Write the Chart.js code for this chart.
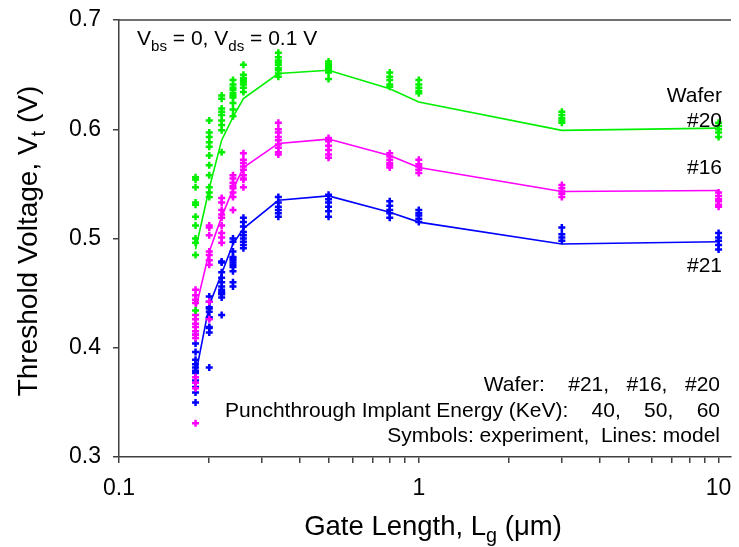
<!DOCTYPE html>
<html>
<head>
<meta charset="utf-8">
<title>Threshold voltage vs gate length</title>
<script src="https://cdn.jsdelivr.net/npm/chart.js@4/dist/chart.umd.min.js"></script>
<style>
  body { margin: 0; background: #fff; }
  #vtChart { display: block; }
</style>
</head>
<body>
<canvas id="vtChart" width="739" height="547"></canvas>
<script>
const FONT = '"Liberation Sans", Arial, Helvetica, sans-serif';

// gate lengths (um) where devices were measured and the model was evaluated
const gateLengths = [0.18, 0.2, 0.22, 0.24, 0.26, 0.34, 0.5, 0.8, 1, 3, 10];
const xTickValues = [0.1, 0.2, 0.3, 0.4, 0.5, 0.6, 0.7, 0.8, 0.9, 1, 2, 3, 4, 5, 6, 7, 8, 9, 10];
const xTickLabels = { 0.1: '0.1', 1: '1', 10: '10' };

// model curves, Vt (V)
const model20 = [0.490, 0.546, 0.590, 0.611, 0.628, 0.651, 0.654, 0.637, 0.625, 0.599, 0.601];
const model16 = [0.435, 0.488, 0.520, 0.545, 0.565, 0.587, 0.591, 0.576, 0.565, 0.543, 0.544];
const model21 = [0.375, 0.439, 0.468, 0.495, 0.509, 0.535, 0.539, 0.524, 0.515, 0.495, 0.497];

// measured Vt (V), one list per gate length
const exp20 = [
  [0.556, 0.554, 0.547, 0.533, 0.531, 0.520, 0.512, 0.500, 0.496, 0.485, 0.434],
  [0.608, 0.597, 0.593, 0.588, 0.584, 0.576, 0.567, 0.558, 0.547, 0.542, 0.538],
  [0.631, 0.628, 0.619, 0.616, 0.613, 0.608, 0.604, 0.599, 0.579],
  [0.645, 0.641, 0.638, 0.636, 0.633, 0.631, 0.629, 0.624, 0.618, 0.612],
  [0.659, 0.650, 0.647, 0.645, 0.643, 0.641, 0.638, 0.634],
  [0.670, 0.666, 0.663, 0.661, 0.659, 0.656, 0.654, 0.651, 0.648],
  [0.662, 0.660, 0.658, 0.656, 0.654, 0.652, 0.646],
  [0.652, 0.648, 0.645, 0.641, 0.639],
  [0.645, 0.641, 0.638, 0.635, 0.633],
  [0.616, 0.613, 0.610, 0.608, 0.606],
  [0.606, 0.603, 0.600, 0.597, 0.593]
];
const exp16 = [
  [0.453, 0.448, 0.444, 0.441, 0.430, 0.426, 0.422, 0.419, 0.415, 0.412, 0.409, 0.373, 0.368, 0.363, 0.331],
  [0.512, 0.510, 0.503, 0.488, 0.485, 0.480, 0.476, 0.442, 0.426],
  [0.537, 0.533, 0.526, 0.522, 0.519, 0.512, 0.505, 0.501, 0.496],
  [0.558, 0.555, 0.551, 0.548, 0.546, 0.542, 0.538, 0.526],
  [0.578, 0.572, 0.569, 0.566, 0.563, 0.558, 0.555, 0.554, 0.547],
  [0.606, 0.600, 0.597, 0.593, 0.590, 0.586, 0.583, 0.579, 0.577],
  [0.592, 0.589, 0.585, 0.581, 0.577, 0.574],
  [0.578, 0.575, 0.572, 0.569, 0.567, 0.565],
  [0.572, 0.568, 0.566, 0.563, 0.560],
  [0.549, 0.546, 0.543, 0.541, 0.538],
  [0.542, 0.539, 0.536, 0.534, 0.531, 0.529]
];
const exp21 = [
  [0.412, 0.404, 0.396, 0.389, 0.385, 0.382, 0.379, 0.377, 0.370, 0.364, 0.359, 0.350],
  [0.447, 0.442, 0.437, 0.436, 0.433, 0.428, 0.427, 0.419, 0.418, 0.414, 0.382],
  [0.479, 0.478, 0.469, 0.464, 0.460, 0.456, 0.453, 0.451, 0.450, 0.449, 0.446, 0.430],
  [0.500, 0.497, 0.488, 0.483, 0.482, 0.480, 0.478, 0.476, 0.474, 0.470, 0.460, 0.456],
  [0.519, 0.515, 0.511, 0.506, 0.503, 0.500, 0.497, 0.494, 0.491],
  [0.538, 0.533, 0.529, 0.526, 0.523, 0.520],
  [0.540, 0.536, 0.533, 0.529, 0.525, 0.520],
  [0.534, 0.530, 0.526, 0.523, 0.519],
  [0.526, 0.523, 0.521, 0.518, 0.515],
  [0.510, 0.504, 0.501, 0.498],
  [0.505, 0.501, 0.498, 0.494, 0.490]
];

const GREEN = '#00f000';
const MAGENTA = '#ff00ff';
const BLUE = '#0000ff';
const AXIS = '#404040';

function points(cols) {
  return cols.flatMap((col, i) => col.map(v => ({ x: gateLengths[i], y: v })));
}
function curve(vals) {
  return vals.map((v, i) => ({ x: gateLengths[i], y: v }));
}
function expSet(label, cols, color) {
  return {
    label, data: points(cols), showLine: false,
    pointStyle: 'cross', pointRadius: 3.5, borderWidth: 2.5,
    borderColor: color, backgroundColor: color
  };
}
function modelSet(label, vals, color) {
  return {
    label, data: curve(vals), showLine: true, pointRadius: 0,
    borderColor: color, borderWidth: 1.6, tension: 0
  };
}

// text with subscripts: parts = [[text, isSub], ...]
function drawRich(ctx, parts, x, y, size, align) {
  const subSize = size * 0.72;
  let w = 0;
  parts.forEach(([t, sub]) => {
    ctx.font = `${sub ? subSize : size}px ${FONT}`;
    w += ctx.measureText(t).width;
  });
  let cx = align === 'right' ? x - w : align === 'center' ? x - w / 2 : x;
  parts.forEach(([t, sub]) => {
    ctx.font = `${sub ? subSize : size}px ${FONT}`;
    ctx.fillText(t, cx, sub ? y + size * 0.27 : y);
    cx += ctx.measureText(t).width;
  });
}

const annotations = {
  id: 'annotations',
  afterDraw(chart) {
    const { ctx, chartArea } = chart;
    ctx.save();
    // top frame line
    ctx.strokeStyle = AXIS;
    ctx.lineWidth = 1.5;
    ctx.beginPath();
    ctx.moveTo(chartArea.left, chartArea.top);
    ctx.lineTo(chartArea.right, chartArea.top);
    ctx.stroke();

    ctx.fillStyle = '#000';
    ctx.textBaseline = 'alphabetic';
    ctx.textAlign = 'left';

    drawRich(ctx, [['V'], ['bs', true], [' = 0, V'], ['ds', true], [' = 0.1 V']], 137, 45, 21, 'left');

    drawRich(ctx, [['Wafer']], 722, 102, 21, 'right');
    drawRich(ctx, [['#20']], 722, 127, 21, 'right');
    drawRich(ctx, [['#16']], 722, 174, 21, 'right');
    drawRich(ctx, [['#21']], 722, 272, 21, 'right');

    drawRich(ctx, [['Wafer:    #21,   #16,   #20']], 720, 391, 21, 'right');
    drawRich(ctx, [['Punchthrough Implant Energy (KeV):    40,    50,    60']], 720, 417, 21, 'right');
    drawRich(ctx, [['Symbols: experiment,  Lines: model']], 720, 442, 21, 'right');

    // axis titles
    drawRich(ctx, [['Gate Length, L'], ['g', true], [' (\u03bcm)']], 433, 535, 27.5, 'center');
    ctx.translate(37, 241);
    ctx.rotate(-Math.PI / 2);
    drawRich(ctx, [['Threshold Voltage, V'], ['t', true], [' (V)']], 0, 0, 28, 'center');
    ctx.restore();
  }
};

new Chart(document.getElementById('vtChart'), {
  type: 'scatter',
  data: {
    datasets: [
      expSet('#20 experiment', exp20, GREEN),
      expSet('#16 experiment', exp16, MAGENTA),
      expSet('#21 experiment', exp21, BLUE),
      modelSet('#20 model', model20, GREEN),
      modelSet('#16 model', model16, MAGENTA),
      modelSet('#21 model', model21, BLUE)
    ]
  },
  options: {
    responsive: false,
    animation: false,
    layout: { padding: { top: 20, right: 8, left: 0, bottom: 0 } },
    plugins: { legend: { display: false }, tooltip: { enabled: false } },
    scales: {
      x: {
        type: 'logarithmic',
        min: 0.1,
        max: 11,
        afterBuildTicks: scale => { scale.ticks = xTickValues.map(v => ({ value: v })); },
        afterFit: scale => {
          scale.height = 90;
          scale.paddingLeft = 0;
          scale.paddingRight = 0;
        },
        ticks: {
          autoSkip: false, maxRotation: 0, padding: 12, color: '#000',
          font: { family: FONT, size: 23 },
          callback: v => xTickLabels[v] || ''
        },
        grid: { drawOnChartArea: false, drawTicks: true, tickLength: 6, color: AXIS, lineWidth: 1.5 },
        border: { display: true, color: AXIS, width: 1.5 }
      },
      y: {
        min: 0.3,
        max: 0.7,
        afterFit: scale => {
          scale.width = 119;
          scale.paddingTop = 0;
          scale.paddingBottom = 0;
        },
        ticks: {
          stepSize: 0.1, padding: 12, color: '#000',
          font: { family: FONT, size: 23 },
          callback: v => v.toFixed(1)
        },
        grid: { drawOnChartArea: false, drawTicks: true, tickLength: 6, color: AXIS, lineWidth: 1.5 },
        border: { display: true, color: AXIS, width: 1.5 }
      }
    }
  },
  plugins: [annotations]
});
</script>
</body>
</html>
